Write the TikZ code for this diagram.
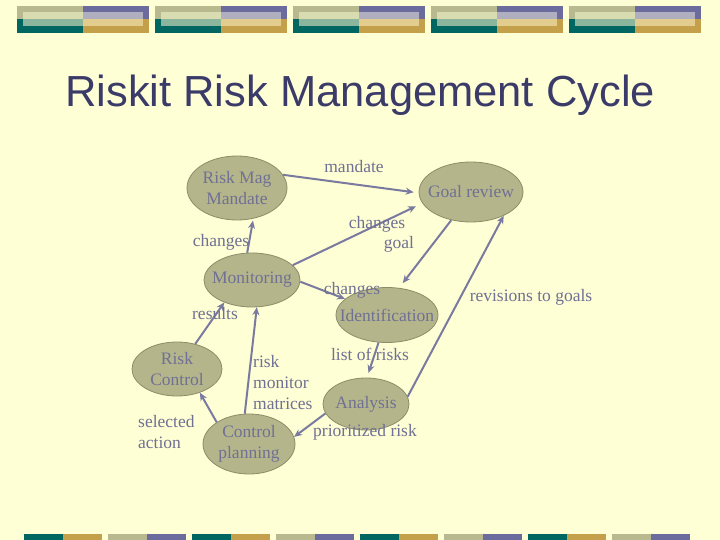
\documentclass[tikz,border=0pt]{standalone}
\usepackage{fontspec}
\setmainfont{Liberation Serif}
\newfontfamily\titlefont{Liberation Sans}
\usetikzlibrary{shapes.geometric,arrows.meta}
\definecolor{paper}{RGB}{255,255,213}
\definecolor{khaki}{RGB}{185,185,143}
\definecolor{khakilt}{RGB}{217,219,176}
\definecolor{plum}{RGB}{107,107,158}
\definecolor{plumlt}{RGB}{175,175,192}
\definecolor{teal}{RGB}{0,102,98}
\definecolor{teallt}{RGB}{139,181,157}
\definecolor{gold}{RGB}{196,160,74}
\definecolor{goldlt}{RGB}{227,205,142}
\definecolor{titlecol}{RGB}{59,59,105}
\definecolor{txtcol}{RGB}{112,112,148}
\definecolor{arrcol}{RGB}{122,122,160}
\definecolor{stagefill}{RGB}{181,181,140}
\definecolor{stagerim}{RGB}{140,140,105}
\tikzset{
  lbl/.style={text=txtcol, font=\fontsize{17.5}{21}\selectfont, inner sep=0pt},
  stage/.style={ellipse, draw=stagerim, fill=stagefill, line width=0.8pt, inner sep=0pt},
  flow/.style={draw=arrcol, line width=2pt, -{Stealth[length=8pt,width=7pt]}}
}
\begin{document}
\begin{tikzpicture}[x=1pt,y=-1pt]
  \fill[paper] (0,0) rectangle (720,540);
  \useasboundingbox (0,0) rectangle (720,540);
  % top strip
  \foreach \i in {0,...,4} {
    \pgfmathsetmacro{\xa}{17+138*\i}
    \fill[khaki] (\xa,6) rectangle ++(66,13);
    \fill[plum] (\xa+66,6) rectangle ++(66,13);
    \fill[teal] (\xa,19) rectangle ++(66,14);
    \fill[gold] (\xa+66,19) rectangle ++(66,14);
    \fill[khakilt] (\xa+6,12) rectangle ++(60,7);
    \fill[plumlt] (\xa+66,12) rectangle ++(60,7);
    \fill[teallt] (\xa+6,19) rectangle ++(60,7);
    \fill[goldlt] (\xa+66,19) rectangle ++(60,7);
  }
  % bottom strip
  \foreach \i in {0,2,4,6} {
    \fill[teal] (24+84*\i,534) rectangle ++(39,6);
    \fill[gold] (63+84*\i,534) rectangle ++(39,6);
  }
  \foreach \i in {1,3,5,7} {
    \fill[khaki] (24+84*\i,534) rectangle ++(39,6);
    \fill[plum] (63+84*\i,534) rectangle ++(39,6);
  }
  \node[anchor=base west, inner sep=0pt, text=titlecol, font=\titlefont\fontsize{43.5}{50}\selectfont] (title) at (65,107) {Riskit Risk Management Cycle};

  \node[stage, minimum width=100pt, minimum height=64pt, label={[lbl,align=center]center:{Risk Mag\\Mandate}}] (mandate) at (237,188) {};
  \node[stage, minimum width=104pt, minimum height=60pt, label={[lbl]center:Goal review}] (goal) at (471,192) {};
  \node[stage, minimum width=96pt, minimum height=54pt, label={[lbl]center:Monitoring}] (monitor) at (252,280) {};
  \node[stage, minimum width=102pt, minimum height=55pt, label={[lbl]center:Identification}] (ident) at (387,315) {};
  \node[stage, minimum width=90pt, minimum height=54pt, label={[lbl,align=center]center:{Risk\\Control}}] (riskctrl) at (177,369) {};
  \node[stage, minimum width=86pt, minimum height=52pt, label={[lbl]center:Analysis}] (analysis) at (366,404) {};
  \node[stage, minimum width=92pt, minimum height=60pt, label={[lbl,align=center]center:{Control\\planning}}] (planning) at (249,444) {};

  \draw[flow, shorten >=5pt] (mandate.16) -- (goal.181);
  \draw[flow, shorten >=7pt] (monitor.20) -- (goal.193);
  \draw[flow, shorten >=2pt] (monitor.100) -- (mandate.298);
  \draw[flow, shorten >=6pt] (goal.235) -- (ident.66);
  \draw[flow] (monitor.358) -- (ident.159);
  \draw[flow] (analysis.10) -- (goal.324);
  \draw[flow, shorten >=5pt] (ident.253) -- (analysis.88);
  \draw[flow] (analysis.193) -- (planning.9);
  \draw[flow] (planning.146) -- (riskctrl.314);
  \draw[flow] (planning.98) -- (monitor.280);
  \draw[flow] (riskctrl.54) -- (monitor.219);

  \node[lbl, anchor=base] (tmandate) at (354,173) {mandate};
  \node[lbl, anchor=base] (tchanges) at (377,229) {changes};
  \node[lbl, anchor=base] (tgoal) at (399,248) {goal};
  \node[lbl, anchor=base] (tchangesleft) at (221,247) {changes};
  \node[lbl, anchor=base] (tchangesid) at (352,294) {changes};
  \node[lbl, anchor=base] (tresults) at (215,319) {results};
  \node[lbl, anchor=base] (trevisions) at (531,301) {revisions to goals};
  \node[lbl, anchor=base] (tlist) at (370,360) {list of risks};
  \node[lbl, anchor=base west, align=left] (tmatrices) at (253,409) {risk\\monitor\\matrices};
  \node[lbl, anchor=base west, align=left] (tselected) at (138,448) {selected\\action};
  \node[lbl, anchor=base] (tprior) at (365,436) {prioritized risk};
\end{tikzpicture}
\end{document}
